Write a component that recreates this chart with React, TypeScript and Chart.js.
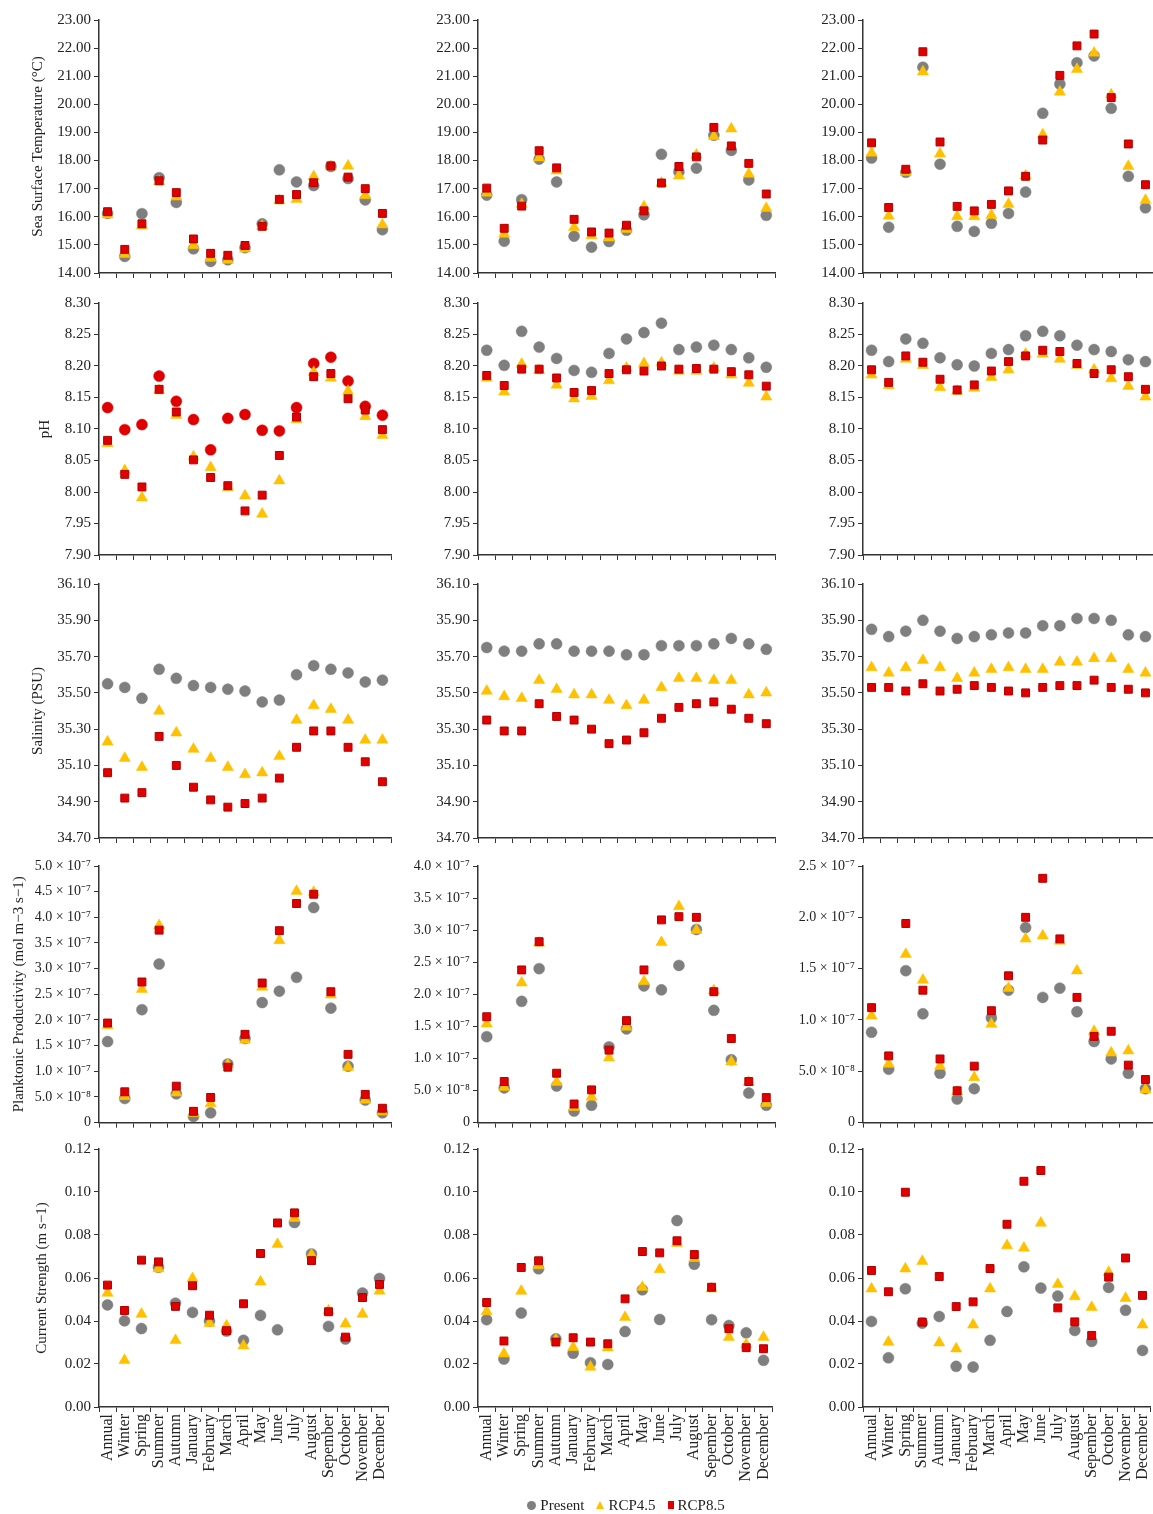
import React, { useEffect, useRef } from 'react';
import { Chart, registerables } from 'chart.js';

Chart.register(...registerables);
Chart.defaults.font.family = '"Liberation Serif", "Times New Roman", serif';

const CATEGORIES = ['Annual', 'Winter', 'Spring', 'Summer', 'Autumn', 'January', 'February', 'March', 'April', 'May', 'June', 'July', 'August', 'Sepember', 'October', 'November', 'December'];
const SERIES = ['Present', 'RCP4.5', 'RCP8.5'];

// Row 1: Sea Surface Temperature (°C)
const SST_A_PRESENT = [16.12, 14.59, 16.11, 17.39, 16.51, 14.86, 14.41, 14.47, 14.90, 15.75, 17.67, 17.24, 17.11, 17.79, 17.36, 16.60, 15.54];
const SST_A_RCP45 = [16.07, 14.67, 15.68, 17.25, 16.71, 14.98, 14.53, 14.46, 14.86, 15.66, 16.57, 16.62, 17.43, 17.78, 17.81, 16.76, 15.72];
const SST_A_RCP85 = [16.18, 14.84, 15.75, 17.28, 16.86, 15.21, 14.70, 14.63, 14.98, 15.66, 16.62, 16.79, 17.21, 17.81, 17.41, 17.00, 16.12];
const SST_B_PRESENT = [16.77, 15.13, 16.61, 18.05, 17.24, 15.31, 14.92, 15.12, 15.52, 16.07, 18.22, 17.60, 17.73, 18.90, 18.36, 17.31, 16.05];
const SST_B_RCP45 = [16.85, 15.39, 16.45, 18.10, 17.64, 15.62, 15.33, 15.25, 15.56, 16.36, 17.20, 17.46, 18.20, 18.86, 19.13, 17.52, 16.30];
const SST_B_RCP85 = [17.02, 15.59, 16.38, 18.35, 17.74, 15.91, 15.46, 15.42, 15.70, 16.21, 17.20, 17.79, 18.13, 19.18, 18.52, 17.90, 16.81];
const SST_C_PRESENT = [18.09, 15.63, 17.58, 21.32, 17.87, 15.66, 15.48, 15.77, 16.12, 16.88, 19.68, 20.72, 21.48, 21.72, 19.86, 17.44, 16.32];
const SST_C_RCP45 = [18.27, 16.03, 17.58, 21.16, 18.24, 16.01, 16.01, 16.05, 16.45, 17.46, 18.92, 20.44, 21.25, 21.83, 20.34, 17.80, 16.59];
const SST_C_RCP85 = [18.63, 16.33, 17.69, 21.87, 18.66, 16.37, 16.21, 16.44, 16.92, 17.44, 18.73, 21.03, 22.08, 22.50, 20.24, 18.59, 17.14];

// Row 2: pH
const PH_A_PRESENT = [8.134, 8.099, 8.107, 8.184, 8.144, 8.115, 8.067, 8.117, 8.123, 8.098, 8.097, 8.134, 8.204, 8.214, 8.176, 8.136, 8.122];
const PH_A_RCP45 = [8.077, 8.034, 7.991, 8.161, 8.122, 8.056, 8.039, 8.007, 7.994, 7.965, 8.018, 8.115, 8.190, 8.181, 8.160, 8.120, 8.090];
const PH_A_RCP85 = [8.082, 8.028, 8.008, 8.163, 8.127, 8.051, 8.023, 8.010, 7.970, 7.995, 8.058, 8.119, 8.183, 8.188, 8.148, 8.130, 8.099];
const PH_B_PRESENT = [8.225, 8.201, 8.255, 8.230, 8.212, 8.193, 8.190, 8.220, 8.243, 8.253, 8.268, 8.226, 8.230, 8.233, 8.226, 8.213, 8.198];
const PH_B_RCP45 = [8.181, 8.159, 8.203, 8.193, 8.170, 8.148, 8.152, 8.177, 8.197, 8.204, 8.205, 8.192, 8.192, 8.197, 8.186, 8.173, 8.151];
const PH_B_RCP85 = [8.185, 8.169, 8.195, 8.195, 8.181, 8.158, 8.161, 8.188, 8.194, 8.192, 8.200, 8.195, 8.196, 8.195, 8.191, 8.186, 8.168];
const PH_C_PRESENT = [8.225, 8.207, 8.243, 8.236, 8.213, 8.202, 8.200, 8.220, 8.226, 8.248, 8.255, 8.248, 8.233, 8.226, 8.223, 8.210, 8.207];
const PH_C_RCP45 = [8.186, 8.169, 8.211, 8.201, 8.166, 8.160, 8.165, 8.182, 8.194, 8.219, 8.219, 8.211, 8.201, 8.194, 8.180, 8.168, 8.151];
const PH_C_RCP85 = [8.194, 8.174, 8.216, 8.206, 8.179, 8.162, 8.170, 8.192, 8.207, 8.216, 8.225, 8.223, 8.204, 8.188, 8.194, 8.183, 8.163];

// Row 3: Salinity (PSU)
const SAL_A_PRESENT = [35.55, 35.53, 35.47, 35.63, 35.58, 35.54, 35.53, 35.52, 35.51, 35.45, 35.46, 35.60, 35.65, 35.63, 35.61, 35.56, 35.57];
const SAL_A_RCP45 = [35.23, 35.14, 35.09, 35.40, 35.28, 35.19, 35.14, 35.09, 35.05, 35.06, 35.15, 35.35, 35.43, 35.41, 35.35, 35.24, 35.24];
const SAL_A_RCP85 = [35.06, 34.92, 34.95, 35.26, 35.10, 34.98, 34.91, 34.87, 34.89, 34.92, 35.03, 35.20, 35.29, 35.29, 35.20, 35.12, 35.01];
const SAL_B_PRESENT = [35.75, 35.73, 35.73, 35.77, 35.77, 35.73, 35.73, 35.73, 35.71, 35.71, 35.76, 35.76, 35.76, 35.77, 35.80, 35.77, 35.74];
const SAL_B_RCP45 = [35.51, 35.48, 35.47, 35.57, 35.52, 35.49, 35.49, 35.46, 35.43, 35.46, 35.53, 35.58, 35.58, 35.57, 35.57, 35.49, 35.50];
const SAL_B_RCP85 = [35.35, 35.29, 35.29, 35.44, 35.37, 35.35, 35.30, 35.22, 35.24, 35.28, 35.36, 35.42, 35.44, 35.45, 35.41, 35.36, 35.33];
const SAL_C_PRESENT = [35.85, 35.81, 35.84, 35.90, 35.84, 35.80, 35.81, 35.82, 35.83, 35.83, 35.87, 35.87, 35.91, 35.91, 35.90, 35.82, 35.81];
const SAL_C_RCP45 = [35.64, 35.61, 35.64, 35.68, 35.64, 35.58, 35.61, 35.63, 35.64, 35.63, 35.63, 35.67, 35.67, 35.69, 35.69, 35.63, 35.61];
const SAL_C_RCP85 = [35.53, 35.53, 35.51, 35.55, 35.51, 35.52, 35.54, 35.53, 35.51, 35.50, 35.53, 35.54, 35.54, 35.57, 35.53, 35.52, 35.50];

// Row 4: Planktonic Productivity, in units of 10^-7 mol m-3 s-1
const PROD_A_PRESENT = [1.58, 0.47, 2.20, 3.09, 0.56, 0.12, 0.19, 1.14, 1.64, 2.34, 2.56, 2.83, 4.19, 2.23, 1.10, 0.44, 0.19];
const PROD_A_RCP45 = [1.89, 0.51, 2.60, 3.84, 0.58, 0.18, 0.37, 1.13, 1.61, 2.64, 3.55, 4.51, 4.49, 2.49, 1.08, 0.44, 0.21];
const PROD_A_RCP85 = [1.94, 0.60, 2.74, 3.75, 0.71, 0.22, 0.49, 1.08, 1.72, 2.72, 3.74, 4.27, 4.45, 2.55, 1.33, 0.55, 0.28];
const PROD_B_PRESENT = [1.34, 0.54, 1.89, 2.40, 0.57, 0.18, 0.27, 1.18, 1.46, 2.13, 2.07, 2.45, 3.01, 1.75, 0.98, 0.46, 0.27];
const PROD_B_RCP45 = [1.54, 0.55, 2.18, 2.80, 0.63, 0.24, 0.40, 1.01, 1.49, 2.20, 2.81, 3.37, 3.00, 2.06, 0.95, 0.63, 0.30];
const PROD_B_RCP85 = [1.65, 0.64, 2.38, 2.82, 0.77, 0.29, 0.51, 1.13, 1.59, 2.38, 3.16, 3.21, 3.20, 2.04, 1.31, 0.64, 0.39];
const PROD_C_PRESENT = [0.88, 0.52, 1.48, 1.06, 0.48, 0.23, 0.33, 1.02, 1.29, 1.90, 1.22, 1.31, 1.08, 0.79, 0.62, 0.48, 0.33];
const PROD_C_RCP45 = [1.04, 0.57, 1.64, 1.39, 0.55, 0.30, 0.44, 0.96, 1.31, 1.79, 1.82, 1.77, 1.48, 0.89, 0.68, 0.70, 0.32];
const PROD_C_RCP85 = [1.12, 0.65, 1.94, 1.29, 0.62, 0.31, 0.55, 1.09, 1.43, 2.00, 2.38, 1.79, 1.22, 0.84, 0.89, 0.56, 0.42];

// Row 5: Current Strength (m s-1)
const CUR_A_PRESENT = [0.0475, 0.0401, 0.0365, 0.0650, 0.0483, 0.0440, 0.0400, 0.0353, 0.0310, 0.0426, 0.0359, 0.0858, 0.0712, 0.0375, 0.0316, 0.0530, 0.0598];
const CUR_A_RCP45 = [0.0530, 0.0217, 0.0432, 0.0643, 0.0310, 0.0598, 0.0389, 0.0378, 0.0285, 0.0582, 0.0757, 0.0878, 0.0708, 0.0448, 0.0387, 0.0432, 0.0540];
const CUR_A_RCP85 = [0.0567, 0.0449, 0.0683, 0.0675, 0.0468, 0.0564, 0.0427, 0.0355, 0.0480, 0.0714, 0.0856, 0.0903, 0.0681, 0.0443, 0.0325, 0.0509, 0.0570];
const CUR_B_PRESENT = [0.0406, 0.0223, 0.0437, 0.0643, 0.0317, 0.0250, 0.0206, 0.0198, 0.0351, 0.0545, 0.0407, 0.0867, 0.0664, 0.0406, 0.0379, 0.0345, 0.0217];
const CUR_B_RCP45 = [0.0444, 0.0248, 0.0539, 0.0658, 0.0314, 0.0277, 0.0186, 0.0276, 0.0417, 0.0557, 0.0640, 0.0762, 0.0692, 0.0550, 0.0325, 0.0291, 0.0325];
const CUR_B_RCP85 = [0.0486, 0.0307, 0.0649, 0.0680, 0.0302, 0.0322, 0.0302, 0.0294, 0.0503, 0.0723, 0.0717, 0.0773, 0.0709, 0.0557, 0.0364, 0.0276, 0.0271];
const CUR_C_PRESENT = [0.0398, 0.0229, 0.0550, 0.0390, 0.0421, 0.0189, 0.0186, 0.0310, 0.0444, 0.0652, 0.0553, 0.0516, 0.0356, 0.0305, 0.0556, 0.0450, 0.0263];
const CUR_C_RCP45 = [0.0550, 0.0302, 0.0643, 0.0678, 0.0299, 0.0271, 0.0382, 0.0550, 0.0751, 0.0740, 0.0856, 0.0571, 0.0514, 0.0464, 0.0627, 0.0506, 0.0382];
const CUR_C_RCP85 = [0.0635, 0.0536, 0.0999, 0.0395, 0.0607, 0.0467, 0.0489, 0.0644, 0.0850, 0.1050, 0.1100, 0.0461, 0.0396, 0.0333, 0.0604, 0.0693, 0.0519];

// Axis titles and ranges
const ROW_TITLES = ['Sea Surface Temperature (°C)', 'pH', 'Salinity (PSU)', 'Planktonic Productivity (mol m−3 s−1)', 'Current Strength (m s−1)'];
const SST_RANGE = [14, 23, 1];
const PH_RANGE = [7.9, 8.3, 0.05];
const SAL_RANGE = [34.7, 36.1, 0.2];
const PROD_RANGES = [[0, 5, 0.5], [0, 4, 0.5], [0, 2.5, 0.5]];
const CUR_RANGE = [0, 0.12, 0.02];

const GRAY = '#7f7f7f';
const ORANGE = '#FFC000';
const RED = '#E00000';

// layout (page pixels)
const COL_AXIS_X = [99, 478, 863];
const COL_PLOT_W = [292, 297, 291];
const ROW_TOP = [20, 303, 584, 866, 1149];
const ROW_BOTTOM = [277, 559, 842, 1126, 1407];
const TITLE_CENTER = [38, 45, 38, 19, 42];
const PAD_T = 12;
const PAD_R = 10;

const fmt2 = (v: number) => Number(v).toFixed(2);
const fmtProd = (v: number) => {
  if (Math.abs(v) < 1e-9) return '0';
  if (v < 1 - 1e-9) return (v * 10).toFixed(1) + ' × 10⁻⁸';
  return v.toFixed(1) + ' × 10⁻⁷';
};

type PanelCfg = {
  key: string;
  row: number;
  col: number;
  present: number[];
  rcp45: number[];
  rcp85: number[];
  range: number[];
  fmt: (v: number) => string;
  presentColor: string;
};

const PANELS: PanelCfg[] = [
  { key: 'sstA', row: 0, col: 0, present: SST_A_PRESENT, rcp45: SST_A_RCP45, rcp85: SST_A_RCP85, range: SST_RANGE, fmt: fmt2, presentColor: GRAY },
  { key: 'sstB', row: 0, col: 1, present: SST_B_PRESENT, rcp45: SST_B_RCP45, rcp85: SST_B_RCP85, range: SST_RANGE, fmt: fmt2, presentColor: GRAY },
  { key: 'sstC', row: 0, col: 2, present: SST_C_PRESENT, rcp45: SST_C_RCP45, rcp85: SST_C_RCP85, range: SST_RANGE, fmt: fmt2, presentColor: GRAY },
  { key: 'phA', row: 1, col: 0, present: PH_A_PRESENT, rcp45: PH_A_RCP45, rcp85: PH_A_RCP85, range: PH_RANGE, fmt: fmt2, presentColor: RED },
  { key: 'phB', row: 1, col: 1, present: PH_B_PRESENT, rcp45: PH_B_RCP45, rcp85: PH_B_RCP85, range: PH_RANGE, fmt: fmt2, presentColor: GRAY },
  { key: 'phC', row: 1, col: 2, present: PH_C_PRESENT, rcp45: PH_C_RCP45, rcp85: PH_C_RCP85, range: PH_RANGE, fmt: fmt2, presentColor: GRAY },
  { key: 'salA', row: 2, col: 0, present: SAL_A_PRESENT, rcp45: SAL_A_RCP45, rcp85: SAL_A_RCP85, range: SAL_RANGE, fmt: fmt2, presentColor: GRAY },
  { key: 'salB', row: 2, col: 1, present: SAL_B_PRESENT, rcp45: SAL_B_RCP45, rcp85: SAL_B_RCP85, range: SAL_RANGE, fmt: fmt2, presentColor: GRAY },
  { key: 'salC', row: 2, col: 2, present: SAL_C_PRESENT, rcp45: SAL_C_RCP45, rcp85: SAL_C_RCP85, range: SAL_RANGE, fmt: fmt2, presentColor: GRAY },
  { key: 'prodA', row: 3, col: 0, present: PROD_A_PRESENT, rcp45: PROD_A_RCP45, rcp85: PROD_A_RCP85, range: PROD_RANGES[0], fmt: fmtProd, presentColor: GRAY },
  { key: 'prodB', row: 3, col: 1, present: PROD_B_PRESENT, rcp45: PROD_B_RCP45, rcp85: PROD_B_RCP85, range: PROD_RANGES[1], fmt: fmtProd, presentColor: GRAY },
  { key: 'prodC', row: 3, col: 2, present: PROD_C_PRESENT, rcp45: PROD_C_RCP45, rcp85: PROD_C_RCP85, range: PROD_RANGES[2], fmt: fmtProd, presentColor: GRAY },
  { key: 'curA', row: 4, col: 0, present: CUR_A_PRESENT, rcp45: CUR_A_RCP45, rcp85: CUR_A_RCP85, range: CUR_RANGE, fmt: fmt2, presentColor: GRAY },
  { key: 'curB', row: 4, col: 1, present: CUR_B_PRESENT, rcp45: CUR_B_RCP45, rcp85: CUR_B_RCP85, range: CUR_RANGE, fmt: fmt2, presentColor: GRAY },
  { key: 'curC', row: 4, col: 2, present: CUR_C_PRESENT, rcp45: CUR_C_RCP45, rcp85: CUR_C_RCP85, range: CUR_RANGE, fmt: fmt2, presentColor: GRAY },
];

function Panel({ cfg }: { cfg: PanelCfg }) {
  const ref = useRef<HTMLCanvasElement>(null);
  const { row, col } = cfg;
  const left = col === 0 ? 0 : COL_AXIS_X[col] - 85;
  const axisW = COL_AXIS_X[col] - left;
  const plotH = ROW_BOTTOM[row] - ROW_TOP[row];
  const xH = row === 4 ? 90 : 8;
  const width = axisW + COL_PLOT_W[col] + PAD_R;
  const height = PAD_T + plotH + xH;
  const top = ROW_TOP[row] - PAD_T;

  useEffect(() => {
    if (!ref.current) return;
    const isProd = row === 3;
    const chart = new Chart(ref.current, {
      type: 'line',
      data: {
        labels: CATEGORIES,
        datasets: [
          { label: SERIES[0], data: cfg.present, showLine: false, pointStyle: 'circle', pointRadius: 5.5, pointBackgroundColor: cfg.presentColor, pointBorderColor: cfg.presentColor, pointBorderWidth: 0.5, order: 3 },
          { label: SERIES[1], data: cfg.rcp45, showLine: false, pointStyle: 'triangle', pointRadius: 6.5, pointBackgroundColor: ORANGE, pointBorderColor: ORANGE, pointBorderWidth: 0.5, order: 2 },
          { label: SERIES[2], data: cfg.rcp85, showLine: false, pointStyle: 'rect', pointRadius: 5.6, pointBackgroundColor: RED, pointBorderColor: '#B00000', pointBorderWidth: 1, order: 1 },
        ],
      },
      options: {
        animation: false,
        responsive: false,
        devicePixelRatio: 1,
        layout: { padding: { top: PAD_T, right: PAD_R, left: 0, bottom: 0 } },
        plugins: { legend: { display: false }, tooltip: { enabled: false } },
        events: [],
        scales: {
          x: {
            type: 'category',
            offset: true,
            grid: { offset: true, drawOnChartArea: false, drawTicks: true, tickLength: 5, color: '#333' },
            border: { display: true, color: '#333', width: 1.5 },
            ticks: row === 4
              ? { display: true, autoSkip: false, maxRotation: 90, minRotation: 90, padding: 2, color: '#222', font: { size: 16 } }
              : { display: false },
            afterFit: (s: any) => { s.height = xH; },
          },
          y: {
            type: 'linear',
            min: cfg.range[0],
            max: cfg.range[1],
            grid: { drawOnChartArea: false, drawTicks: true, tickLength: 5, color: '#333' },
            border: { display: true, color: '#333', width: 1.5 },
            ticks: {
              stepSize: cfg.range[2],
              padding: 3,
              color: '#222',
              font: { size: isProd ? 14 : 15 },
              callback: (v: any) => cfg.fmt(Number(v)),
            },
            title: {
              display: col === 0,
              text: ROW_TITLES[row],
              color: '#222',
              font: { size: 15 },
              padding: { top: TITLE_CENTER[row] - 9, bottom: 0 },
            },
            afterFit: (s: any) => { s.width = axisW; },
          },
        },
      },
    } as any);
    return () => chart.destroy();
  }, []);

  return (
    <canvas
      ref={ref}
      width={width}
      height={height}
      style={{ position: 'absolute', left, top, width, height }}
    />
  );
}

function Legend() {
  const item: React.CSSProperties = { display: 'flex', alignItems: 'center', marginRight: 12 };
  return (
    <div style={{ position: 'absolute', left: 0, width: 1264, top: 1494, height: 22, display: 'flex', justifyContent: 'center', alignItems: 'center', fontFamily: '"Liberation Serif", serif', fontSize: 15, color: '#222' }}>
      <div style={item}>
        <span style={{ width: 9, height: 9, borderRadius: '50%', background: GRAY, display: 'inline-block', marginRight: 4 }} />
        <span>{SERIES[0]}</span>
      </div>
      <div style={item}>
        <span style={{ width: 0, height: 0, borderLeft: '4px solid transparent', borderRight: '4px solid transparent', borderBottom: `8px solid ${ORANGE}`, display: 'inline-block', marginRight: 4 }} />
        <span>{SERIES[1]}</span>
      </div>
      <div style={item}>
        <span style={{ width: 6, height: 8, background: RED, display: 'inline-block', marginRight: 4 }} />
        <span>{SERIES[2]}</span>
      </div>
    </div>
  );
}

export default function App() {
  return (
    <div style={{ position: 'absolute', left: 0, top: 0, width: 1153, height: 1514, overflow: 'hidden', background: '#fff' }}>
      {PANELS.map((p) => <Panel key={p.key} cfg={p} />)}
      <Legend />
    </div>
  );
}
